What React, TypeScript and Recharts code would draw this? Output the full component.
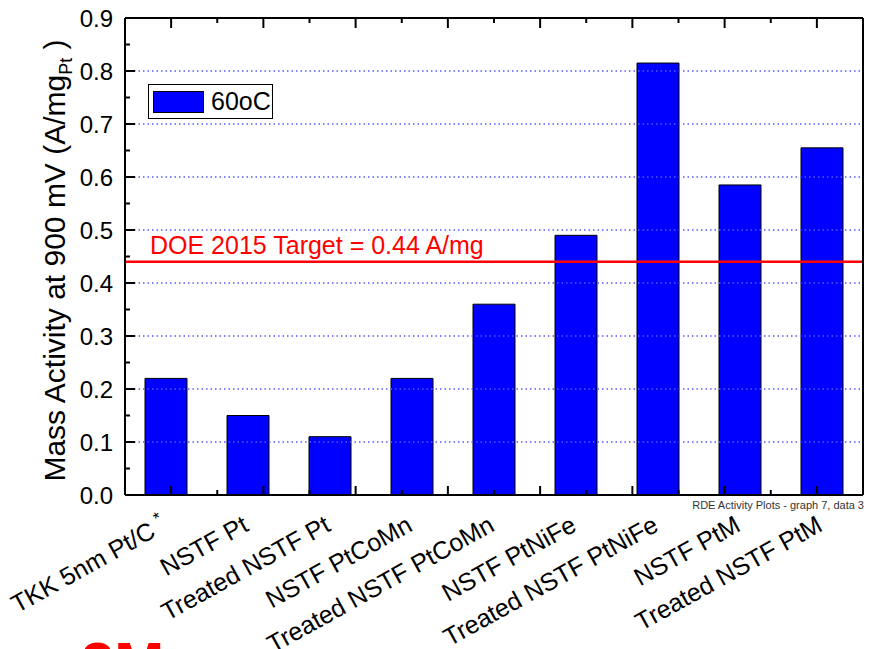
import { BarChart, Bar, XAxis, YAxis, ReferenceLine, Legend } from 'recharts'

// RDE mass activity per catalyst, measured at 60 °C
const CATEGORIES = [
  'TKK 5nm Pt/C',
  'NSTF Pt',
  'Treated NSTF Pt',
  'NSTF PtCoMn',
  'Treated NSTF PtCoMn',
  'NSTF PtNiFe',
  'Treated NSTF PtNiFe',
  'NSTF PtM',
  'Treated NSTF PtM',
]
const MASS_ACTIVITY = [0.22, 0.15, 0.11, 0.22, 0.36, 0.49, 0.815, 0.585, 0.655]
const FOOTNOTED = ['TKK 5nm Pt/C']
const SERIES_NAME = '60oC'

const DOE_TARGET = 0.44
const DOE_LABEL = 'DOE 2015 Target = 0.44 A/mg'

const Y_TICKS = [0, 0.05, 0.1, 0.15, 0.2, 0.25, 0.3, 0.35, 0.4, 0.45, 0.5, 0.55, 0.6, 0.65, 0.7, 0.75, 0.8, 0.85, 0.9]
const GRID_VALUES = [0.1, 0.2, 0.3, 0.4, 0.5, 0.6, 0.7, 0.8]
// frame ticks along x: halves sit on category centres, integers on the boundaries
const FRAME_TICKS = [0.5, 1, 1.5, 2, 2.5, 3, 3.5, 4, 4.5, 5, 5.5, 6, 6.5, 7, 7.5, 8, 8.5]

const FONT = '"Liberation Sans", Arial, sans-serif'

const data = CATEGORIES.map((name, i) => ({ name, activity: MASS_ACTIVITY[i] }))

const isMajorY = (v: number) => Math.abs(v * 10 - Math.round(v * 10)) < 1e-6
const isMajorX = (v: number) => v % 1 !== 0

function LeftTick({ x, y, payload }: any) {
  const major = isMajorY(payload.value)
  return (
    <g>
      <line x1={x} x2={x + (major ? 10 : 5)} y1={y} y2={y} stroke="#000" strokeWidth={2} />
      {major && (
        <text x={x - 12} y={y} dy="0.36em" textAnchor="end" fontSize={24} fontFamily={FONT} fill="#000">
          {payload.value.toFixed(1)}
        </text>
      )}
    </g>
  )
}

function RightTick({ x, y, payload }: any) {
  const len = isMajorY(payload.value) ? 10 : 5
  return <line x1={x} x2={x - len} y1={y} y2={y} stroke="#000" strokeWidth={2} />
}

function BottomTick({ x, y, payload }: any) {
  const len = isMajorX(payload.value) ? 9 : 5
  return <line x1={x} x2={x} y1={y} y2={y - len} stroke="#000" strokeWidth={2} />
}

function TopTick({ x, y, payload }: any) {
  const len = isMajorX(payload.value) ? 10 : 5
  return <line x1={x} x2={x} y1={y} y2={y + len} stroke="#000" strokeWidth={2} />
}

function CategoryTick({ x, y, payload }: any) {
  const ax = x + 2
  const ay = y + 34
  return (
    <text
      x={ax}
      y={ay}
      textAnchor="end"
      transform={`rotate(-29, ${ax}, ${ay})`}
      fontSize={25}
      fontFamily={FONT}
      fill="#000"
    >
      {payload.value}
      {FOOTNOTED.includes(payload.value) && (
        <tspan fontSize={17} dx={6} dy={-10}>*</tspan>
      )}
    </text>
  )
}

function YTitle({ viewBox }: any) {
  const cx = viewBox.x - 59
  const cy = viewBox.y + viewBox.height / 2 + 4
  return (
    <text
      transform={`translate(${cx}, ${cy}) rotate(-90)`}
      textAnchor="middle"
      fontSize={30}
      fontFamily={FONT}
      fill="#000"
    >
      Mass Activity at 900 mV (A/mg
      <tspan fontSize={18} dy={7}>Pt</tspan>
      <tspan dy={-7}> )</tspan>
    </text>
  )
}

function TargetLabel({ viewBox }: any) {
  return (
    <text x={viewBox.x + 25} y={viewBox.y - 8} fontSize={25} fontFamily={FONT} fill="#ff0000">
      {DOE_LABEL}
    </text>
  )
}

function LegendBox({ payload }: any) {
  return (
    <div
      style={{
        width: 125,
        height: 35,
        boxSizing: 'border-box',
        border: '1.5px solid #000',
        background: '#fff',
        display: 'flex',
        alignItems: 'center',
        paddingLeft: 4,
        fontFamily: FONT,
      }}
    >
      {(payload || []).map((p: any) => (
        <div key={p.value} style={{ display: 'flex', alignItems: 'center' }}>
          <span
            style={{
              width: 51,
              height: 22,
              boxSizing: 'border-box',
              background: '#0000ff',
              border: '1px solid #000',
              display: 'inline-block',
            }}
          />
          <span style={{ fontSize: 25, marginLeft: 7, lineHeight: '25px' }}>{p.value}</span>
        </div>
      ))}
    </div>
  )
}

export default function App() {
  return (
    <div
      style={{
        position: 'absolute',
        left: 0,
        top: 0,
        width: 875,
        height: 649,
        overflow: 'hidden',
        background: '#fff',
        fontFamily: FONT,
      }}
    >
      <BarChart width={875} height={649} data={data} margin={{ top: 17, right: 11, left: 124, bottom: 152 }}>
        <XAxis
          xAxisId="bot"
          type="number"
          domain={[0, 9]}
          ticks={FRAME_TICKS}
          height={1}
          tickSize={0}
          tickMargin={0}
          interval={0}
          axisLine={{ stroke: '#000', strokeWidth: 2 }}
          tick={BottomTick}
        />
        <XAxis
          xAxisId="cat"
          dataKey="name"
          height={1}
          tickSize={0}
          tickMargin={0}
          axisLine={false}
          tickLine={false}
          interval={0}
          tick={CategoryTick}
        />
        <XAxis
          xAxisId="top"
          orientation="top"
          type="number"
          domain={[0, 9]}
          ticks={FRAME_TICKS}
          height={1}
          tickSize={0}
          tickMargin={0}
          interval={0}
          axisLine={{ stroke: '#000', strokeWidth: 2 }}
          tick={TopTick}
        />
        <YAxis
          yAxisId="l"
          domain={[0, 0.9]}
          ticks={Y_TICKS}
          width={1}
          tickSize={0}
          tickMargin={0}
          interval={0}
          axisLine={{ stroke: '#000', strokeWidth: 2 }}
          tick={LeftTick}
          label={YTitle}
        />
        <YAxis
          yAxisId="r"
          orientation="right"
          domain={[0, 0.9]}
          ticks={Y_TICKS}
          width={1}
          tickSize={0}
          tickMargin={0}
          interval={0}
          axisLine={{ stroke: '#000', strokeWidth: 2 }}
          tick={RightTick}
        />
        {GRID_VALUES.map((v) => (
          <ReferenceLine
            key={v}
            xAxisId="cat"
            yAxisId="l"
            y={v}
            stroke="#5a5aff"
            strokeWidth={1.5}
            strokeDasharray="1.5 3"
          />
        ))}
        <Bar
          xAxisId="cat"
          yAxisId="l"
          dataKey="activity"
          name={SERIES_NAME}
          fill="#0000ff"
          stroke="#000"
          strokeWidth={1}
          barSize={42}
          isAnimationActive={false}
        />
        <ReferenceLine
          xAxisId="cat"
          yAxisId="l"
          y={DOE_TARGET}
          stroke="#ff0000"
          strokeWidth={2.5}
          label={TargetLabel}
        />
        <Legend
          layout="horizontal"
          verticalAlign="middle"
          align="center"
          content={LegendBox}
          wrapperStyle={{ left: 148, top: 84, width: 'auto', height: 'auto' }}
        />
      </BarChart>
      <div
        style={{
          position: 'absolute',
          right: 11,
          top: 499,
          fontSize: 11,
          color: '#333',
          whiteSpace: 'nowrap',
        }}
      >
        RDE Activity Plots - graph 7, data 3
      </div>
      <div
        style={{
          position: 'absolute',
          left: 81,
          top: 634,
          fontSize: 60,
          lineHeight: 1,
          fontWeight: 'bold',
          color: '#ff0000',
        }}
      >
        3M
      </div>
    </div>
  )
}
